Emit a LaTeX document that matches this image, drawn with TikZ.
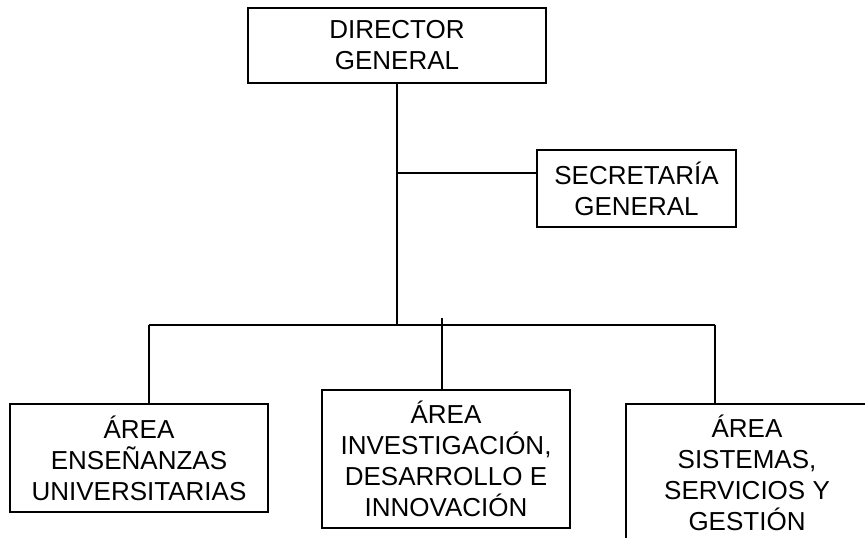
\documentclass[tikz,border=0pt]{standalone}
\usepackage{fontspec}
\setmainfont{Liberation Sans}
\begin{document}
\begin{tikzpicture}[x=0.5pt,y=-0.5pt,
  box/.style={draw,line width=0.9pt,inner sep=0pt,align=center,
    font=\fontsize{13}{15.5}\selectfont},
  conn/.style={line width=0.9pt}]
\useasboundingbox (0,0) rectangle (865,537);
\clip (0,0) rectangle (865,537);
\node[box,minimum width=149pt,minimum height=37.5pt] (dir) at (397,45.5) {DIRECTOR\\GENERAL};
\node[box,minimum width=99.5pt,minimum height=38.5pt] (sec) at (636.5,188.5) {SECRETARÍA\\GENERAL};
\node[box,minimum width=129pt,minimum height=54pt] (b1) at (139,458) {ÁREA\\ENSEÑANZAS\\UNIVERSITARIAS};
\node[box,minimum width=124pt,minimum height=69pt] (b2) at (446,459) {ÁREA\\INVESTIGACIÓN,\\DESARROLLO E\\INNOVACIÓN};
\node[box,minimum width=121pt,minimum height=69pt] (b3) at (747,473) {ÁREA\\SISTEMAS,\\SERVICIOS Y\\GESTIÓN};
\coordinate (bl) at (149,325);
\coordinate (br) at (715,325);
\coordinate (bm) at (397,325);
\coordinate (s) at (397,173);
\coordinate (mt) at (442,318);
\draw[conn] (dir.south) -- (bm);
\draw[conn] (s) -- (s -| sec.west);
\draw[conn] (bl) -- (br);
\draw[conn] (bl) -- (bl |- b1.north);
\draw[conn] (mt) -- (mt |- b2.north);
\draw[conn] (br) -- (br |- b3.north);
\end{tikzpicture}
\end{document}
